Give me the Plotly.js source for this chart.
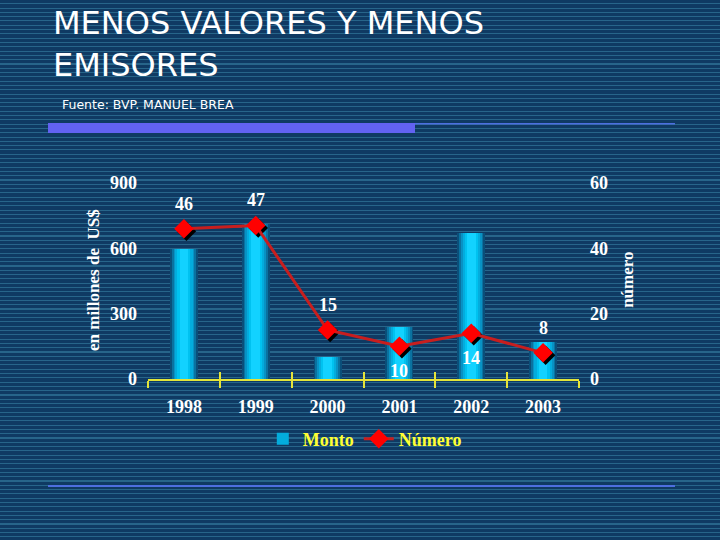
<!DOCTYPE html>
<html>
<head>
<meta charset="utf-8">
<script src="https://cdn.plot.ly/plotly-3.0.1.min.js"></script>
<style>
  html, body { margin: 0; padding: 0; }
  body {
    width: 720px; height: 540px; overflow: hidden;
    background: repeating-linear-gradient(to bottom, #0f3a63 0px, #0f3a63 3.2px, #27658a 3.2px, #27658a 4.3px);
  }
  #chart { width: 720px; height: 540px; }
</style>
</head>
<body>
<div id="chart"></div>
<script>
// ---- data ----
var years = ['1998', '1999', '2000', '2001', '2002', '2003'];
var monto = [597, 712, 102, 240, 669, 171];   // en millones de US$
var numero = [46, 47, 15, 10, 14, 8];         // número de emisores
var labelSide = ['above', 'above', 'above', 'below', 'below', 'above'];

// ---- styles ----
var serif = 'Liberation Serif, Times New Roman, serif';
var gradWidths = [0.39, 0.34, 0.29, 0.24, 0.18, 0.12];
var gradColors = ['#0a4f7a', '#0a72a0', '#0892c4', '#03acdd', '#00c2f0', '#12d2ff'];

var traces = [];
gradWidths.forEach(function (w, i) {
  traces.push({
    type: 'bar', x: years, y: monto, width: w,
    marker: { color: gradColors[i], line: { width: 0 } },
    name: 'Monto', showlegend: i === 3, legendrank: 1,
    hoverinfo: 'skip', xaxis: 'x', yaxis: 'y'
  });
});
// marker shadow
traces.push({
  type: 'scatter', mode: 'markers', x: years, y: numero,
  marker: { symbol: 'diamond', size: 15, color: '#000000' },
  showlegend: false, hoverinfo: 'skip', xaxis: 'x2', yaxis: 'y3'
});
// line
traces.push({
  type: 'scatter', mode: 'lines+markers', x: years, y: numero,
  line: { color: '#c81e1e', width: 3 },
  marker: { symbol: 'diamond', size: 15, color: '#ff0000' },
  name: 'Número', legendrank: 2, hoverinfo: 'skip', xaxis: 'x3', yaxis: 'y2'
});

var annotations = numero.map(function (v, i) {
  return {
    x: i, y: v, xref: 'x3', yref: 'y2', text: String(v), showarrow: false,
    yshift: labelSide[i] === 'above' ? 25 : -25,
    font: { family: serif, size: 18, color: '#ffffff', weight: 'bold' }
  };
});
// axis titles & subtitle
annotations.push({
  xref: 'paper', yref: 'paper', x: -0.1276, y: 0.505, xanchor: 'center', yanchor: 'middle',
  textangle: -90, text: 'en millones de  US$', showarrow: false,
  font: { family: serif, size: 17, color: '#ffffff', weight: 'bold' }
});
annotations.push({
  xref: 'paper', yref: 'paper', x: 1.111, y: 0.505, xanchor: 'center', yanchor: 'middle',
  textangle: -90, text: 'número', showarrow: false,
  font: { family: serif, size: 17, color: '#ffffff', weight: 'bold' }
});
annotations.push({
  xref: 'paper', yref: 'paper', x: -0.2042, y: 1.403, xanchor: 'left', yanchor: 'middle',
  text: 'Fuente: BVP. MANUEL BREA', showarrow: false,
  font: { family: 'DejaVu Sans, sans-serif', size: 12.5, color: '#ffffff' }
});

var tickFont = { family: serif, size: 18, color: '#ffffff', weight: 'bold' };

var layout = {
  width: 720, height: 540,
  paper_bgcolor: 'rgba(0,0,0,0)', plot_bgcolor: 'rgba(0,0,0,0)',
  margin: { l: 148, r: 141, t: 183, b: 161 },
  title: {
    text: 'MENOS VALORES Y MENOS<br>EMISORES',
    xref: 'container', yref: 'container', x: 53 / 720, xanchor: 'left',
    y: 1 - 34 / 540, yanchor: 'top',
    font: { family: 'DejaVu Sans, sans-serif', size: 32, color: '#ffffff' }
  },
  barmode: 'overlay', bargap: 0,
  showlegend: true,
  legend: {
    orientation: 'h', x: 0.503, xanchor: 'center', y: -0.306, yanchor: 'middle',
    font: { family: serif, size: 18, color: '#ffff33', weight: 'bold' },
    bgcolor: 'rgba(0,0,0,0)', traceorder: 'normal', itemwidth: 30
  },
  xaxis: {
    type: 'category', range: [-0.5, 5.5], showline: true, linecolor: '#e4e43a', linewidth: 2,
    ticks: 'outside', ticklen: 7, tickcolor: '#e4e43a', tickwidth: 2, tickson: 'boundaries',
    showgrid: false, zeroline: false, tickfont: tickFont, ticklabelstandoff: 10
  },
  xaxis2: { type: 'category', overlaying: 'x', range: [-0.535, 5.465], visible: false },
  xaxis3: {
    type: 'category', overlaying: 'x', range: [-0.5, 5.5], showline: false,
    ticks: 'inside', ticklen: 7, tickcolor: '#e4e43a', tickwidth: 2, tickson: 'boundaries',
    showticklabels: false, showgrid: false, zeroline: false
  },
  yaxis: {
    range: [0, 900], tickvals: [0, 300, 600, 900], showgrid: false, zeroline: false,
    showline: false, ticks: '', tickfont: tickFont, ticklabelstandoff: 10
  },
  yaxis2: {
    overlaying: 'y', side: 'right', range: [0, 60], tickvals: [0, 20, 40, 60],
    showgrid: false, zeroline: false, showline: false, ticks: '', tickfont: tickFont,
    ticklabelstandoff: 10
  },
  yaxis3: { overlaying: 'y', range: [0.75, 60.75], visible: false },
  annotations: annotations,
  shapes: [
    { type: 'rect', xref: 'paper', yref: 'paper', x0: -0.232, x1: 0.6195, y0: 1.2551, y1: 1.3061,
      fillcolor: '#6262f2', line: { width: 0 } },
    { type: 'line', xref: 'paper', yref: 'paper', x0: 0.6195, x1: 1.2227, y0: 1.302, y1: 1.302,
      line: { color: '#4d6fe0', width: 1.5 } },
    { type: 'line', xref: 'paper', yref: 'paper', x0: -0.232, x1: 1.2227, y0: -0.5459, y1: -0.5459,
      line: { color: '#4d6fe0', width: 2 } }
  ],
  hovermode: false
};

Plotly.newPlot('chart', traces, layout, { staticPlot: true, displayModeBar: false });
</script>
</body>
</html>
